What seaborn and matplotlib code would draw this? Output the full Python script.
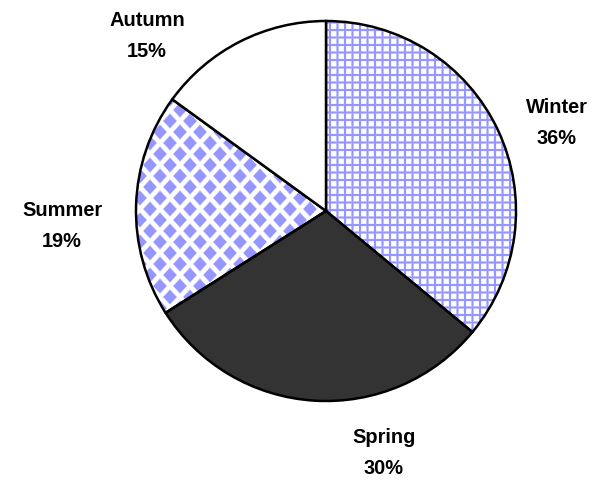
import numpy as np
import matplotlib
matplotlib.use("Agg")
import matplotlib.pyplot as plt
import seaborn as sns

# ---- data ----
seasons = ["Winter", "Spring", "Summer", "Autumn"]
shares = [36, 30, 19, 15]
pct_labels = ["36%", "30%", "19%", "15%"]

# ---- style / layout ----
sns.set_theme(style="white")
plt.rcParams["font.family"] = ["Liberation Sans", "DejaVu Sans"]

W, H, DPI = 613, 480, 90
CX, CY, R = 326, 211, 190          # pie centre and radius in pixels
label_px = [(557, 123), (384, 453), (62, 226), (147, 36)]  # label centres (pixels)
face = ["none", "#333333", "none", "white"]
BLUE = np.array([150, 150, 255]) / 255.0

fig = plt.figure(figsize=(W / DPI, H / DPI), dpi=DPI)
fig.patch.set_facecolor("white")
ax = fig.add_axes([0, 0, 1, 1])

wedges, _ = ax.pie(shares, startangle=90, counterclock=False, colors=face,
                   wedgeprops=dict(edgecolor="black", linewidth=2.0, zorder=2))
for w, fc in zip(wedges, face):
    w.set_facecolor(fc)

xlim = (-CX / R, (W - CX) / R)
ylim = ((CY - H) / R, CY / R)
ax.set_xlim(*xlim)
ax.set_ylim(*ylim)
ax.set_aspect("auto")
ax.axis("off")

# ---- fill textures ----
px, py = np.meshgrid(np.arange(W) + 0.5, np.arange(H) + 0.5)

def blend(t):
    t = t[..., None]
    return (1 - t) * np.ones(3) + t * BLUE

# grid (Winter)
P = 7.5
mx = np.mod(px, P); dx = np.minimum(mx, P - mx)
my = np.mod(py, P); dy = np.minimum(my, P - my)
tg = np.maximum(np.clip((1.6 - dx) / 1.0, 0, 1), np.clip((1.6 - dy) / 1.0, 0, 1))
grid_img = blend(tg)

# diamonds (Summer)
Q = 20.0
pys = py * 20.0 / 22.0
u = px + pys; v = px - pys
mu = np.mod(u, Q); du = np.minimum(mu, Q - mu)
mv = np.mod(v, Q); dv = np.minimum(mv, Q - mv)
td = np.clip((7.6 - np.maximum(du, dv)) / 1.6, 0, 1)
dia_img = blend(td)

for idx, img in ((0, grid_img), (2, dia_img)):
    im = ax.imshow(img, extent=(xlim[0], xlim[1], ylim[0], ylim[1]), origin="upper",
                   interpolation="nearest", zorder=1, aspect="auto")
    im.set_clip_path(wedges[idx])

ax.set_xlim(*xlim)
ax.set_ylim(*ylim)

# ---- labels ----
for name, pct, (lx, ly) in zip(seasons, pct_labels, label_px):
    ax.text((lx - CX) / R, (CY - ly) / R, f"{name}\n{pct}", ha="center", va="center",
            fontsize=16, fontweight="bold", color="black", linespacing=1.8)

fig.savefig("out.png", dpi=DPI, facecolor="white")
